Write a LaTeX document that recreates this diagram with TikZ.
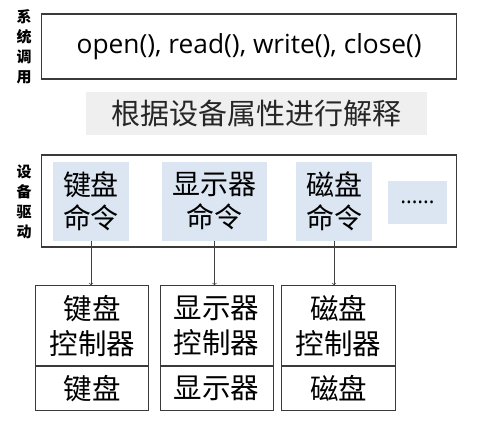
\documentclass[tikz,border=0pt]{standalone}
\usepackage{fontspec}
\setmainfont{Open Sans}
\newfontfamily\cjk{Noto Sans CJK SC}
\definecolor{cmdblue}{HTML}{DCE6F2}
\definecolor{bandgray}{HTML}{EFEFEF}
\definecolor{edge}{HTML}{3A3A3A}
\begin{document}
\begin{tikzpicture}[x=1pt,y=-1pt,>=to,
    side/.style={font=\cjk\bfseries\fontsize{15}{20}\selectfont,align=center},
    frame/.style={draw=edge,line width=1.1pt,inner sep=0pt},
    cmd/.style={fill=cmdblue,inner sep=0pt,align=center,
      font=\cjk\fontsize{28}{33}\selectfont},
    unit/.style={draw=edge,line width=.9pt,inner sep=0pt,align=center,
      font=\cjk\fontsize{28.5}{35}\selectfont}]
    \useasboundingbox (0,0) rectangle (477,429);

    % system call layer
    \node[side] (sysl) at (24,47) {系\\统\\调\\用};
    \node[frame,minimum width=415pt,minimum height=65pt,
      font=\fontsize{26.3}{30}\selectfont] (syscall) at (249.2,46.5)
      {open(), read(), write(), close()};
    \node[fill=bandgray,minimum width=341pt,minimum height=43pt,inner sep=0pt,
      text=black!85,font=\cjk\fontsize{29}{32}\selectfont] (interp) at (256.5,113.5)
      {根据设备属性进行解释};

    % driver layer
    \node[side] (drvl) at (24,202) {设\\备\\驱\\动};
    \node[frame,minimum width=415pt,minimum height=92pt] (driver) at (249.2,201) {};
    \node[cmd,minimum width=76pt,minimum height=79pt] (kbcmd) at (91,201.5) {键盘\\命令};
    \node[cmd,minimum width=105pt,minimum height=79pt] (scrcmd) at (214.5,201.5) {显示器\\命令};
    \node[cmd,minimum width=76pt,minimum height=79pt] (dskcmd) at (334,201.5) {磁盘\\命令};
    \node[cmd,minimum width=59pt,minimum height=43pt,font=\fontsize{22}{24}\selectfont]
      (more) at (417.5,202.5) {……};

    % controllers and devices
    \node[unit,minimum width=113pt,minimum height=80pt] (kbctl) at (92.3,325.7) {键盘\\控制器};
    \node[unit,minimum width=113pt,minimum height=44pt,anchor=north] (kbdev) at (kbctl.south) {键盘};
    \node[unit,minimum width=113pt,minimum height=80pt] (scrctl) at (216.5,325.7) {显示器\\控制器};
    \node[unit,minimum width=113pt,minimum height=44pt,anchor=north] (scrdev) at (scrctl.south) {显示器};
    \node[unit,minimum width=114pt,minimum height=80pt] (dskctl) at (338.7,325.7) {磁盘\\控制器};
    \node[unit,minimum width=114pt,minimum height=44pt,anchor=north] (dskdev) at (dskctl.south) {磁盘};

    \draw[->,draw=black!75,line width=.7pt] (kbcmd.south) -- (kbcmd.south |- kbctl.north);
    \draw[->,draw=black!75,line width=.7pt] (scrcmd.south) -- (scrcmd.south |- scrctl.north);
    \draw[->,draw=black!75,line width=.7pt] (dskcmd.south) -- (dskcmd.south |- dskctl.north);
\end{tikzpicture}
\end{document}
